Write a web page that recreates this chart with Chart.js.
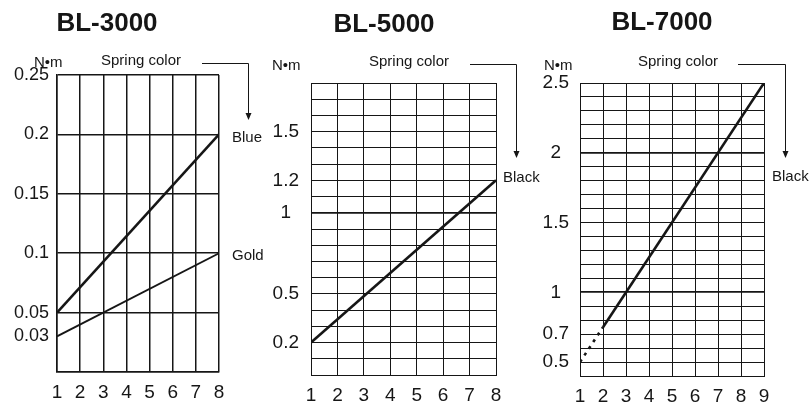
<!DOCTYPE html>
<html>
<head>
<meta charset="utf-8">
<script src="https://cdn.jsdelivr.net/npm/chart.js@4.4.1/dist/chart.umd.min.js"></script>
<style>
    html, body { margin: 0; padding: 0; background: #fff; }
    body { width: 809px; height: 403px; position: relative; overflow: hidden; }
    canvas { position: absolute; top: 0; }
</style>
</head>
<body>
<canvas id="bl3000" width="270" height="403" style="left:0px"></canvas>
<canvas id="bl5000" width="280" height="403" style="left:265px"></canvas>
<canvas id="bl7000" width="279" height="403" style="left:530px"></canvas>
<script>
// BL-3000
const bl3000Scale = [1, 8];
const bl3000Blue = [0.05, 0.2];
const bl3000Gold = [0.03, 0.1];
const bl3000XTicks = [1, 2, 3, 4, 5, 6, 7, 8];
const bl3000YGrid = [0, 0.03, 0.05, 0.1, 0.15, 0.2, 0.25];
const bl3000YLabels = [0.25, 0.2, 0.15, 0.1, 0.05, 0.03];

// BL-5000
const bl5000Scale = [1, 8];
const bl5000Black = [0.2, 1.2];
const bl5000XTicks = [1, 2, 3, 4, 5, 6, 7, 8];
const bl5000YLabels = [1.5, 1.2, 1, 0.5, 0.2];

// BL-7000
const bl7000DashScale = [1, 2];
const bl7000DashBlack = [0.5, 0.75];
const bl7000Scale = [2, 9];
const bl7000Black = [0.75, 2.5];
const bl7000XTicks = [1, 2, 3, 4, 5, 6, 7, 8, 9];
const bl7000YLabels = [2.5, 2, 1.5, 1, 0.7, 0.5];

const fontFamily = '"Liberation Sans", Arial, Helvetica, sans-serif';
const ink = '#161616';

// grid rows every 0.1
function tenths(from, to) {
    const out = [];
    for (let i = Math.round(from * 10); i <= Math.round(to * 10); i++) out.push(i / 10);
    return out;
}

function points(xs, ys) {
    return xs.map((x, i) => ({ x: x, y: ys[i] }));
}

function ticksFrom(list) {
    return scale => { scale.ticks = list.map(v => ({ value: v })); };
}

function labelFrom(list) {
    return value => {
        const hit = list.find(l => Math.abs(l - value) < 1e-6);
        return hit === undefined ? '' : String(hit);
    };
}

const notesPlugin = {
    id: 'notes',
    afterDraw(chart, args, o) {
        const ctx = chart.ctx;
        const yScale = chart.scales.y;
        const right = chart.chartArea.right;
        ctx.save();
        ctx.fillStyle = ink;
        ctx.strokeStyle = ink;
        ctx.textBaseline = 'middle';

        ctx.textAlign = 'center';
        ctx.font = 'bold 26px ' + fontFamily;
        ctx.fillText(o.title, o.titleX, o.titleY);

        ctx.textAlign = 'left';
        ctx.font = '15px ' + fontFamily;
        ctx.fillText('N•m', o.unitX, o.unitY);
        ctx.fillText('Spring color', o.springX, o.springY);

        // arrow pointing down to the spring colour names
        const ax = o.arrowX1 + 0.5;
        ctx.lineWidth = 1;
        ctx.beginPath();
        ctx.moveTo(o.arrowX0, o.arrowY0 + 0.5);
        ctx.lineTo(ax, o.arrowY0 + 0.5);
        ctx.lineTo(ax, o.arrowY1 - 6);
        ctx.stroke();
        ctx.beginPath();
        ctx.moveTo(ax - 3, o.arrowY1 - 7);
        ctx.lineTo(ax + 3, o.arrowY1 - 7);
        ctx.lineTo(ax, o.arrowY1);
        ctx.closePath();
        ctx.fill();

        o.names.forEach(n => {
            ctx.fillText(n.text, right + n.dx, yScale.getPixelForValue(n.value) + n.dy);
        });
        ctx.restore();
    }
};

function buildChart(id, opt) {
    return new Chart(document.getElementById(id), {
        type: 'line',
        data: { datasets: opt.datasets },
        options: {
            responsive: false,
            animation: false,
            events: [],
            layout: { padding: { left: 0, right: opt.padRight, top: opt.padTop, bottom: 0 } },
            elements: { point: { radius: 0 }, line: { tension: 0 } },
            plugins: {
                legend: { display: false },
                tooltip: { enabled: false },
                notes: opt.notes
            },
            scales: {
                x: {
                    type: 'linear',
                    min: opt.xMin,
                    max: opt.xMax,
                    afterBuildTicks: ticksFrom(opt.xTicks),
                    afterFit: s => { s.height = opt.xAxisHeight; },
                    grid: { color: ink, lineWidth: opt.gridWidth, drawTicks: false },
                    border: { color: ink, width: opt.gridWidth },
                    ticks: {
                        autoSkip: false, maxRotation: 0, padding: 9, color: ink,
                        font: { family: fontFamily, size: 19 }
                    }
                },
                y: {
                    type: 'linear',
                    min: opt.yMin,
                    max: opt.yMax,
                    afterBuildTicks: ticksFrom(opt.yGrid),
                    afterFit: s => { s.width = opt.yAxisWidth; },
                    grid: {
                        drawTicks: false,
                        color: c => (opt.hiddenRows || []).includes(c.tick.value) ? 'rgba(0,0,0,0)' : ink,
                        lineWidth: c => (opt.heavyRows || []).includes(c.tick.value) ? 1.8 : opt.gridWidth
                    },
                    border: { color: ink, width: opt.gridWidth },
                    ticks: {
                        autoSkip: false, padding: opt.yPad, crossAlign: opt.yAlign, color: ink,
                        font: { family: fontFamily, size: opt.yFont },
                        callback: labelFrom(opt.yLabels)
                    }
                }
            }
        },
        plugins: [notesPlugin]
    });
}

buildChart('bl3000', {
    datasets: [
        { data: points(bl3000Scale, bl3000Blue), borderColor: ink, borderWidth: 2.6 },
        { data: points(bl3000Scale, bl3000Gold), borderColor: ink, borderWidth: 1.8 }
    ],
    xMin: 1, xMax: 8, xTicks: bl3000XTicks,
    yMin: 0, yMax: 0.25, yGrid: bl3000YGrid, yLabels: bl3000YLabels, hiddenRows: [0.03],
    padRight: 51, padTop: 75, xAxisHeight: 31, yAxisWidth: 57,
    yPad: 8, yAlign: 'near', yFont: 18, gridWidth: 1.5,
    notes: {
        title: 'BL-3000', titleX: 107, titleY: 24,
        unitX: 34, unitY: 63, springX: 101, springY: 61,
        arrowX0: 202, arrowX1: 248, arrowY0: 63, arrowY1: 120,
        names: [
            { text: 'Blue', value: bl3000Blue[1], dx: 13, dy: 3 },
            { text: 'Gold', value: bl3000Gold[1], dx: 13, dy: 3 }
        ]
    }
});

buildChart('bl5000', {
    datasets: [
        { data: points(bl5000Scale, bl5000Black), borderColor: ink, borderWidth: 2.6 }
    ],
    xMin: 1, xMax: 8, xTicks: bl5000XTicks,
    yMin: 0, yMax: 1.8, yGrid: tenths(0, 1.8), yLabels: bl5000YLabels, heavyRows: [1],
    padRight: 49, padTop: 83, xAxisHeight: 28, yAxisWidth: 46,
    yPad: 12, yAlign: 'center', yFont: 19, gridWidth: 1,
    notes: {
        title: 'BL-5000', titleX: 119, titleY: 25,
        unitX: 7, unitY: 66, springX: 104, springY: 62,
        arrowX0: 205, arrowX1: 251, arrowY0: 64, arrowY1: 158,
        names: [
            { text: 'Black', value: bl5000Black[1], dx: 7, dy: -2 }
        ]
    }
});

buildChart('bl7000', {
    datasets: [
        { data: points(bl7000DashScale, bl7000DashBlack), borderColor: ink, borderWidth: 2.6, borderDash: [3, 5] },
        { data: points(bl7000Scale, bl7000Black), borderColor: ink, borderWidth: 2.6 }
    ],
    xMin: 1, xMax: 9, xTicks: bl7000XTicks,
    yMin: 0.4, yMax: 2.5, yGrid: tenths(0.4, 2.5), yLabels: bl7000YLabels, heavyRows: [1, 2],
    padRight: 45, padTop: 83, xAxisHeight: 27, yAxisWidth: 50,
    yPad: 11, yAlign: 'center', yFont: 19, gridWidth: 1,
    notes: {
        title: 'BL-7000', titleX: 132, titleY: 23,
        unitX: 14, unitY: 66, springX: 108, springY: 62,
        arrowX0: 208, arrowX1: 255, arrowY0: 64, arrowY1: 158,
        names: [
            { text: 'Black', value: 1.8, dx: 8, dy: -4 }
        ]
    }
});
</script>
</body>
</html>
